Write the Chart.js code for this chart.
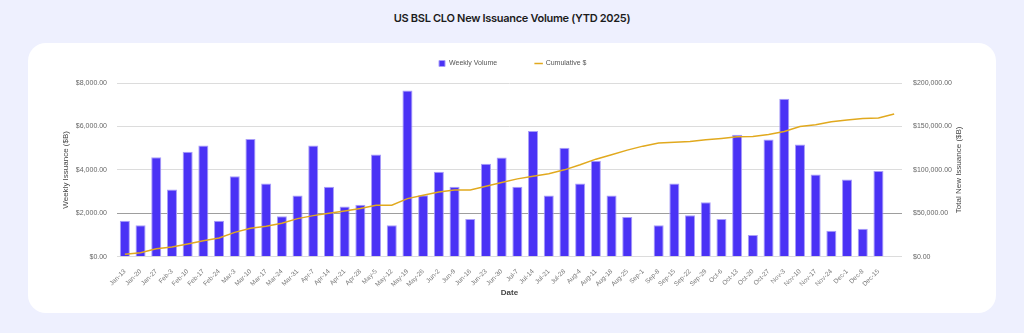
<!DOCTYPE html>
<html>
<head>
<meta charset="utf-8">
<script src="https://cdn.jsdelivr.net/npm/chart.js@4"></script>
<style>
  html, body { margin: 0; padding: 0; }
  body { width: 1024px; height: 333px; background: #eef0fe; position: relative; overflow: hidden; }
  #title { position: absolute; left: 0; top: 11px; width: 1024px; text-align: center; letter-spacing: -0.3px;
           font-family: Inter, "Liberation Sans", sans-serif; font-weight: 600; font-size: 11px; color: #1c1c1c; }
  #panel { position: absolute; left: 28px; top: 43px; width: 968px; height: 270px; background: #fff; border-radius: 18px; }
  #chart { position: absolute; left: 0; top: 0; }
</style>
</head>
<body>
<div id="title">US BSL CLO New Issuance Volume (YTD 2025)</div>
<div id="panel"></div>
<canvas id="chart" width="1024" height="333"></canvas>
<script>
// weekly CLO issuance, YTD 2025
var weeks = ["Jan-13","Jan-20","Jan-27","Feb-3","Feb-10","Feb-17","Feb-24","Mar-3","Mar-10","Mar-17",
  "Mar-24","Mar-31","Apr-7","Apr-14","Apr-21","Apr-28","May-5","May-12","May-19","May-26",
  "Jun-2","Jun-9","Jun-16","Jun-23","Jun-30","Jul-7","Jul-14","Jul-21","Jul-28","Aug-4",
  "Aug-11","Aug-18","Aug-25","Sep-1","Sep-8","Sep-15","Sep-22","Sep-29","Oct-6","Oct-13",
  "Oct-20","Oct-27","Nov-3","Nov-10","Nov-17","Nov-24","Dec-1","Dec-8","Dec-15"];

var weekly = [1650,1450,4580,3090,4830,5120,1650,3710,5420,3370,
  1860,2820,5120,3220,2310,2390,4710,1450,7650,2830,
  3910,3220,1740,4280,4570,3220,5790,2820,5020,3370,
  4420,2820,1830,0,1450,3370,1910,2510,1740,5620,
  1000,5400,7280,5170,3790,1200,3550,1290,3950];

// line runs one step past the last bar
var cumulative = [2700,4600,9200,11150,14600,18450,21500,28000,32700,35000,
  38500,43850,47300,50000,52700,55400,59200,59200,66900,70800,
  74500,76700,76900,81150,85400,89600,92700,95400,100000,105800,
  112300,117300,122700,127300,130800,131900,132700,134600,136200,138100,
  138500,140800,144200,150000,151900,155400,157300,159200,159600,164200];

var leftTicks = [0, 2000, 4000, 6000, 8000];
var rightTicks = [0, 50000, 100000, 150000, 200000];

Chart.defaults.font.family = '"Liberation Sans", Arial, sans-serif';
Chart.defaults.color = '#555';

function money(v) {
  return '$' + Number(v).toLocaleString('en-US', {minimumFractionDigits: 2, maximumFractionDigits: 2});
}

// right axis title reads bottom-to-top, like the left one
var rightTitle = {
  id: 'rightTitle',
  afterDraw: function (chart) {
    var ctx = chart.ctx, a = chart.chartArea, s = chart.scales.y1;
    ctx.save();
    ctx.translate(s.right - 5, (a.top + a.bottom) / 2);
    ctx.rotate(-Math.PI / 2);
    ctx.font = '8px "Liberation Sans", Arial, sans-serif';
    ctx.fillStyle = '#444';
    ctx.textAlign = 'center';
    ctx.textBaseline = 'middle';
    ctx.fillText('Total New Issuance ($B)', 0, 0);
    ctx.restore();
  }
};

var chart = new Chart('chart', {
  type: 'bar',
  data: {
    labels: weeks.concat(['']),
    datasets: [
      {
        type: 'line',
        label: 'Cumulative $',
        data: cumulative,
        yAxisID: 'y1',
        borderColor: '#e1a91e',
        backgroundColor: '#e1a91e',
        borderWidth: 1.5,
        pointRadius: 0,
        pointStyle: 'line',
        tension: 0,
        order: 0
      },
      {
        label: 'Weekly Volume',
        data: weekly,
        yAxisID: 'y',
        backgroundColor: '#4a32f5',
        borderColor: '#a99ef9',
        borderWidth: 1,
        pointStyle: 'rect',
        barPercentage: 0.8,
        categoryPercentage: 0.8,
        order: 1
      }
    ]
  },
  options: {
    responsive: false,
    animation: false,
    layout: { padding: { left: 61, right: 60, top: 22, bottom: 35.5 } },
    plugins: {
      legend: {
        position: 'top',
        reverse: true,
        labels: {
          usePointStyle: true,
          boxHeight: 6,
          padding: 38,
          color: '#555',
          font: { size: 7 }
        }
      },
      subtitle: {
        display: true,
        text: '',
        weight: 500,
        font: { size: 1, lineHeight: 1 },
        padding: { top: 0, bottom: 5 }
      },
      tooltip: { enabled: false }
    },
    scales: {
      x: {
        grid: { display: false },
        border: { display: false },
        ticks: { autoSkip: false, minRotation: 45, maxRotation: 45, padding: 3, color: '#777', font: { size: 6.5 } },
        title: { display: true, text: 'Date', color: '#444', padding: 0, font: { size: 8, weight: 'bold' } },
        afterFit: function (s) { s.height = 40.8; }
      },
      y: {
        position: 'left',
        min: 0, max: 8000,
        afterBuildTicks: function (s) { s.ticks = leftTicks.map(function (v) { return {value: v}; }); },
        ticks: { padding: 10, color: '#666', font: { size: 7 }, callback: money },
        grid: {
          drawTicks: false,
          color: function (c) { return c.tick && c.tick.value === 2000 ? '#9e9e9e' : '#dcdcdc'; }
        },
        border: { display: false },
        title: { display: true, text: 'Weekly Issuance ($B)', color: '#444', padding: 0, font: { size: 8 } },
        afterFit: function (s) { s.width = 56; }
      },
      y1: {
        position: 'right',
        min: 0, max: 200000,
        afterBuildTicks: function (s) { s.ticks = rightTicks.map(function (v) { return {value: v}; }); },
        ticks: { padding: 11, color: '#666', font: { size: 7 }, callback: money },
        grid: { display: false, drawTicks: false },
        border: { display: false },
        afterFit: function (s) { s.width = 62; }
      }
    }
  },
  plugins: [rightTitle]
});
</script>
</body>
</html>
